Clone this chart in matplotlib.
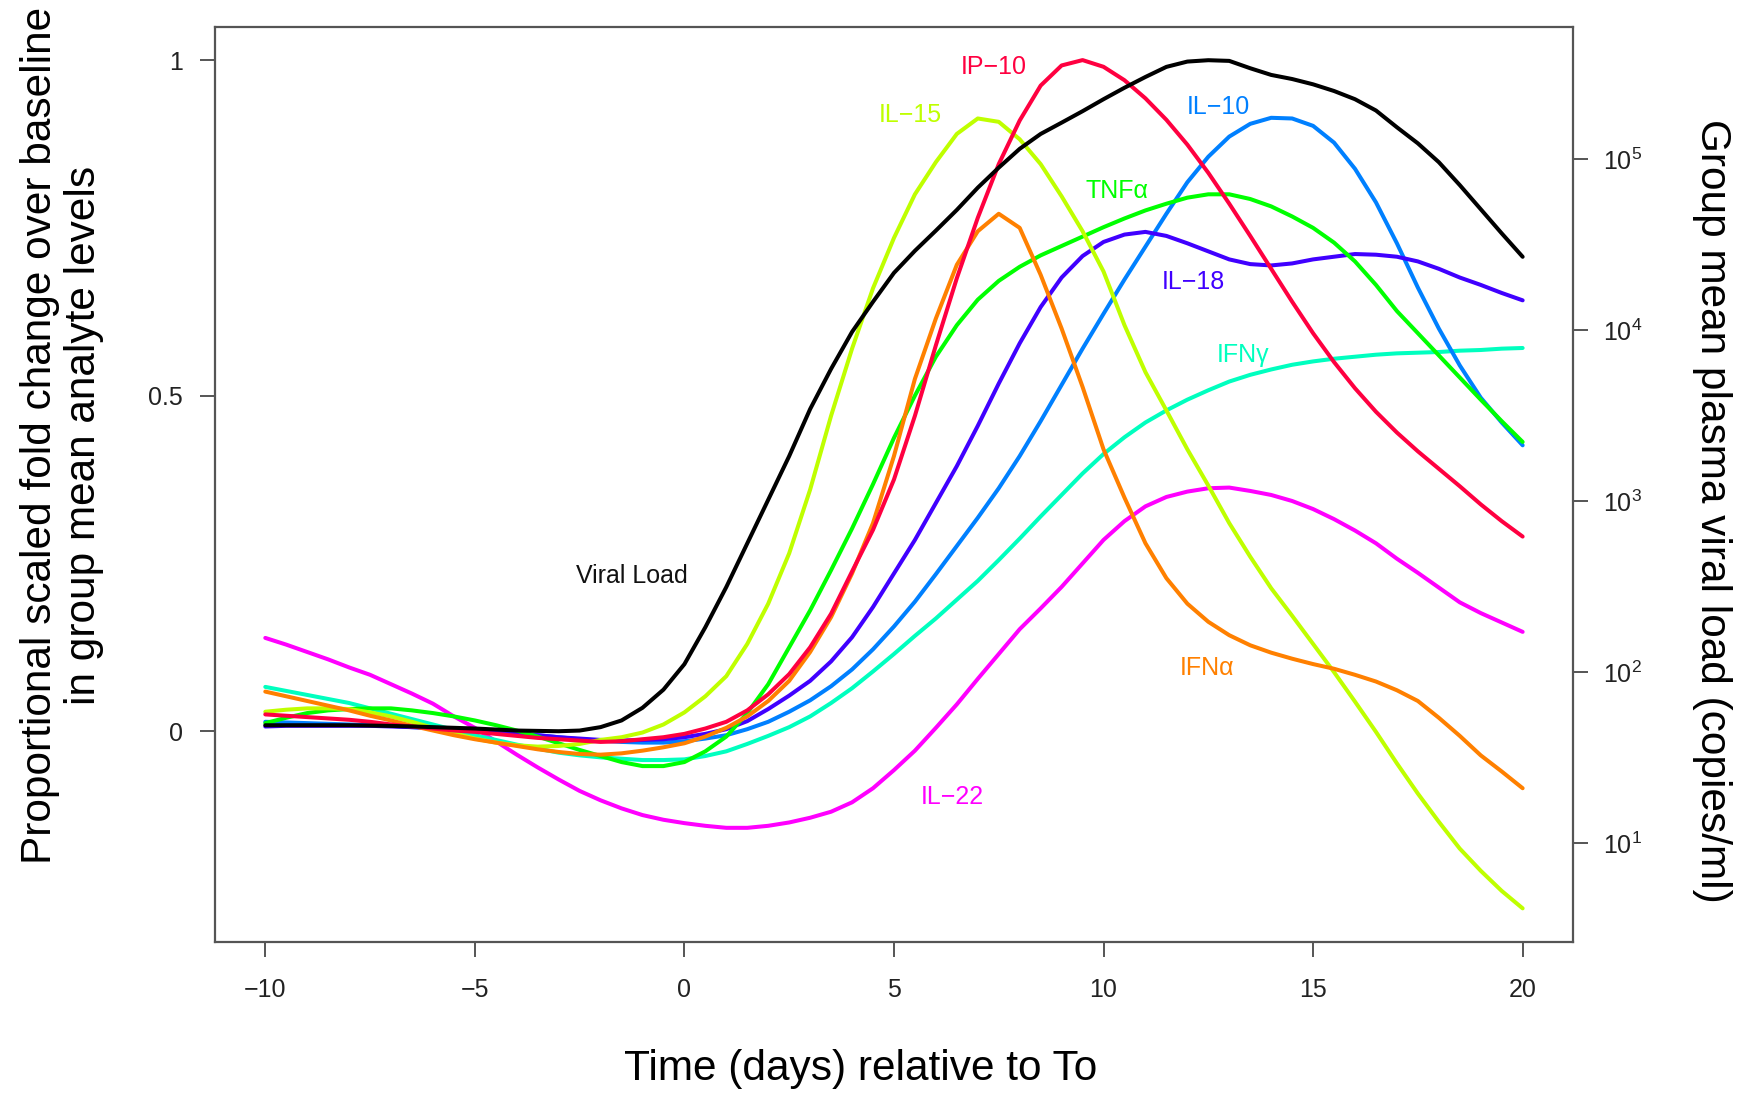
import numpy as np
import matplotlib
matplotlib.use("Agg")
import matplotlib.pyplot as plt
from matplotlib.ticker import NullLocator, FixedLocator

plt.rcParams['font.family'] = ['Liberation Sans', 'DejaVu Sans']

# time grid (days relative to To), half-day steps
days = [-10, -9.5, -9, -8.5, -8, -7.5, -7, -6.5, -6, -5.5,
        -5, -4.5, -4, -3.5, -3, -2.5, -2, -1.5, -1, -0.5,
        0, 0.5, 1, 1.5, 2, 2.5, 3, 3.5, 4, 4.5,
        5, 5.5, 6, 6.5, 7, 7.5, 8, 8.5, 9, 9.5,
        10, 10.5, 11, 11.5, 12, 12.5, 13, 13.5, 14, 14.5,
        15, 15.5, 16, 16.5, 17, 17.5, 18, 18.5, 19, 19.5,
        20]

# proportional scaled fold change
il22 = [0.139, 0.129, 0.118, 0.107, 0.095, 0.084, 0.07, 0.056, 0.041, 0.022,
        0.005, -0.015, -0.035, -0.054, -0.072, -0.089, -0.103, -0.115, -0.125, -0.132,
        -0.137, -0.141, -0.144, -0.144, -0.141, -0.136, -0.129, -0.12, -0.106, -0.085,
        -0.058, -0.029, 0.005, 0.04, 0.078, 0.115, 0.152, 0.183, 0.215, 0.25,
        0.285, 0.313, 0.335, 0.349, 0.357, 0.362, 0.363, 0.358, 0.352, 0.343,
        0.331, 0.316, 0.299, 0.28, 0.257, 0.236, 0.214, 0.192, 0.176, 0.162,
        0.148]
ifna = [0.059, 0.052, 0.045, 0.038, 0.031, 0.023, 0.016, 0.008, 0.001, -0.006,
        -0.012, -0.017, -0.022, -0.027, -0.031, -0.034, -0.035, -0.033, -0.029, -0.024,
        -0.018, -0.008, 0.005, 0.022, 0.045, 0.075, 0.118, 0.17, 0.235, 0.31,
        0.41, 0.525, 0.615, 0.695, 0.745, 0.771, 0.75, 0.68, 0.6, 0.513,
        0.42, 0.348, 0.28, 0.228, 0.19, 0.163, 0.143, 0.128, 0.117, 0.108,
        0.1, 0.093, 0.084, 0.074, 0.061, 0.045, 0.02, -0.007, -0.036, -0.06,
        -0.085]
il15 = [0.029, 0.032, 0.034, 0.034, 0.033, 0.028, 0.022, 0.014, 0.005, -0.003,
        -0.011, -0.017, -0.021, -0.023, -0.022, -0.019, -0.013, -0.009, -0.002, 0.01,
        0.028, 0.052, 0.082, 0.13, 0.19, 0.265, 0.36, 0.47, 0.57, 0.66,
        0.735, 0.8, 0.848, 0.89, 0.913, 0.908, 0.882, 0.845, 0.797, 0.745,
        0.685, 0.605, 0.535, 0.478, 0.42, 0.366, 0.31, 0.26, 0.213, 0.172,
        0.13, 0.088, 0.044, -0.001, -0.048, -0.093, -0.135, -0.175, -0.208, -0.238,
        -0.264]
tnfa = [0.012, 0.02, 0.027, 0.031, 0.033, 0.034, 0.034, 0.031, 0.027, 0.022,
        0.016, 0.009, 0.001, -0.008, -0.018, -0.028, -0.037, -0.046, -0.052, -0.052,
        -0.046, -0.03, -0.008, 0.027, 0.07, 0.125, 0.18, 0.24, 0.302, 0.368,
        0.437, 0.5, 0.558, 0.605, 0.643, 0.671, 0.692, 0.709, 0.723, 0.737,
        0.751, 0.764, 0.776, 0.786, 0.795, 0.8, 0.8, 0.793, 0.782, 0.767,
        0.75, 0.728, 0.7, 0.665, 0.626, 0.593, 0.56, 0.527, 0.494, 0.462,
        0.431]
ifng = [0.066, 0.06, 0.054, 0.048, 0.042, 0.034, 0.026, 0.018, 0.01, 0.002,
        -0.006, -0.013, -0.02, -0.026, -0.032, -0.036, -0.039, -0.041, -0.043, -0.043,
        -0.042, -0.037, -0.03, -0.019, -0.007, 0.006, 0.022, 0.042, 0.064, 0.089,
        0.115, 0.142, 0.168, 0.196, 0.224, 0.255, 0.287, 0.32, 0.352, 0.384,
        0.413, 0.438, 0.46, 0.478, 0.494, 0.508, 0.521, 0.531, 0.539, 0.546,
        0.551, 0.555, 0.558, 0.561, 0.563, 0.564, 0.565, 0.567, 0.568, 0.57,
        0.571]
il10 = [0.014, 0.013, 0.012, 0.011, 0.01, 0.009, 0.008, 0.006, 0.004, 0.002,
        0.0, -0.002, -0.004, -0.006, -0.009, -0.012, -0.014, -0.016, -0.017, -0.017,
        -0.015, -0.011, -0.006, 0.003, 0.014, 0.029, 0.046, 0.067, 0.092, 0.122,
        0.156, 0.193, 0.234, 0.276, 0.318, 0.362, 0.41, 0.462, 0.516, 0.57,
        0.622, 0.673, 0.722, 0.771, 0.818, 0.856, 0.886, 0.905, 0.914, 0.913,
        0.902, 0.877, 0.838, 0.788, 0.727, 0.661, 0.6, 0.545, 0.497, 0.46,
        0.426]
il18 = [0.007, 0.008, 0.008, 0.008, 0.008, 0.008, 0.007, 0.006, 0.005, 0.003,
        0.001, -0.001, -0.004, -0.006, -0.009, -0.011, -0.013, -0.014, -0.013, -0.012,
        -0.009, -0.004, 0.003, 0.015, 0.033, 0.053, 0.075, 0.104, 0.14, 0.185,
        0.235, 0.285, 0.34, 0.395, 0.455, 0.518, 0.578, 0.632, 0.676, 0.708,
        0.729, 0.74, 0.744, 0.738, 0.727, 0.715, 0.703, 0.696, 0.694, 0.697,
        0.703, 0.707, 0.711, 0.71, 0.707, 0.7, 0.689, 0.676, 0.665, 0.653,
        0.642]
ip10 = [0.025, 0.023, 0.021, 0.019, 0.017, 0.014, 0.01, 0.007, 0.004, 0.001,
        -0.001, -0.004, -0.007, -0.01, -0.012, -0.014, -0.016, -0.015, -0.012, -0.009,
        -0.004, 0.004, 0.014, 0.031, 0.055, 0.085, 0.125, 0.175, 0.238, 0.3,
        0.375, 0.47, 0.575, 0.675, 0.765, 0.845, 0.91, 0.962, 0.992, 1.0,
        0.99, 0.97, 0.943, 0.911, 0.874, 0.832, 0.786, 0.738, 0.689, 0.64,
        0.593, 0.55, 0.511, 0.476, 0.445, 0.417, 0.391, 0.365, 0.338, 0.313,
        0.29]

# log10 group mean plasma viral load (copies/ml)
vl_log10 = [1.691, 1.691, 1.691, 1.691, 1.691, 1.689, 1.687, 1.684, 1.680, 1.676,
            1.672, 1.666, 1.660, 1.658, 1.656, 1.660, 1.680, 1.719, 1.793, 1.899,
            2.048, 2.264, 2.499, 2.754, 3.009, 3.264, 3.539, 3.774, 3.990, 4.166,
            4.335, 4.464, 4.582, 4.703, 4.833, 4.950, 5.060, 5.147, 5.213, 5.280,
            5.350, 5.417, 5.480, 5.539, 5.570, 5.578, 5.574, 5.531, 5.492, 5.468,
            5.437, 5.398, 5.350, 5.284, 5.186, 5.092, 4.982, 4.848, 4.707, 4.566,
            4.429]

# name, values, colour, label position (day, value)
series = [
    ("IL\u221222", il22, "#FF00FF", (6.4, -0.098)),
    ("IFN\u03b3", ifng, "#00FFBF", (13.33, 0.56)),
    ("IL\u221210", il10, "#0080FF", (12.75, 0.93)),
    ("IL\u221218", il18, "#4000FF", (12.15, 0.67)),
    ("TNF\u03b1", tnfa, "#00FF00", (10.33, 0.805)),
    ("IL\u221215", il15, "#BFFF00", (5.4, 0.918)),
    ("IFN\u03b1", ifna, "#FF8000", (12.48, 0.094)),
    ("IP\u221210", ip10, "#FF0040", (7.39, 0.99)),
]

fig = plt.figure(figsize=(17.45, 10.93), dpi=100)
ax = fig.add_axes([0.1232, 0.1386, 0.7782, 0.8370])

for name, vals, col, pos in series:
    ax.plot(days, vals, color=col, lw=2.9, solid_capstyle='round', solid_joinstyle='round')
    ax.text(pos[0], pos[1], name, color=col, fontsize=18, ha='center', va='center')

ax.text(-1.25, 0.231, "Viral Load", color='#111111', fontsize=18, ha='center', va='center')

ax.set_xlim(-11.2, 21.2)
ax.set_ylim(-0.3134, 1.0498)
ax.set_xticks([-10, -5, 0, 5, 10, 15, 20])
ax.set_yticks([0, 0.5, 1])
ax.set_yticklabels(["0", "0.5", "1"])
ax.tick_params(axis='x', direction='out', length=11, width=1.4, color='#555555',
               labelsize=18, labelcolor='#222222', pad=15)
ax.tick_params(axis='y', direction='out', length=11, width=1.4, color='#555555',
               labelsize=18, labelcolor='#222222', pad=12)
for sp in ax.spines.values():
    sp.set_color('#555555')
    sp.set_linewidth(1.6)

# right axis: viral load on log scale
ax2 = ax.twinx()
ax2.set_yscale('log')
ax2.plot(days, 10 ** np.array(vl_log10), color='black', lw=2.9,
         solid_capstyle='round', solid_joinstyle='round')
ax2.set_ylim(10 ** 0.427, 10 ** 5.774)
ax2.yaxis.set_major_locator(FixedLocator([1e1, 1e2, 1e3, 1e4, 1e5]))
ax2.yaxis.set_minor_locator(NullLocator())
ax2.tick_params(axis='y', direction='out', length=11, width=1.4, color='#555555',
                labelsize=18, labelcolor='#222222', pad=11)
for sp in ax2.spines.values():
    sp.set_visible(False)

fig.text(0.0355, 0.602, "Proportional scaled fold change over baseline\nin group mean analyte levels",
         rotation=90, ha='center', va='center', fontsize=30.5, linespacing=1.15,
         multialignment='center')
fig.text(0.981, 0.5325, "Group mean plasma viral load (copies/ml)", rotation=270,
         ha='center', va='center', fontsize=30.5)
fig.text(0.493, 0.022, "Time (days) relative to To", ha='center', va='center', fontsize=30.5)

fig.savefig("out.png", dpi=100)
